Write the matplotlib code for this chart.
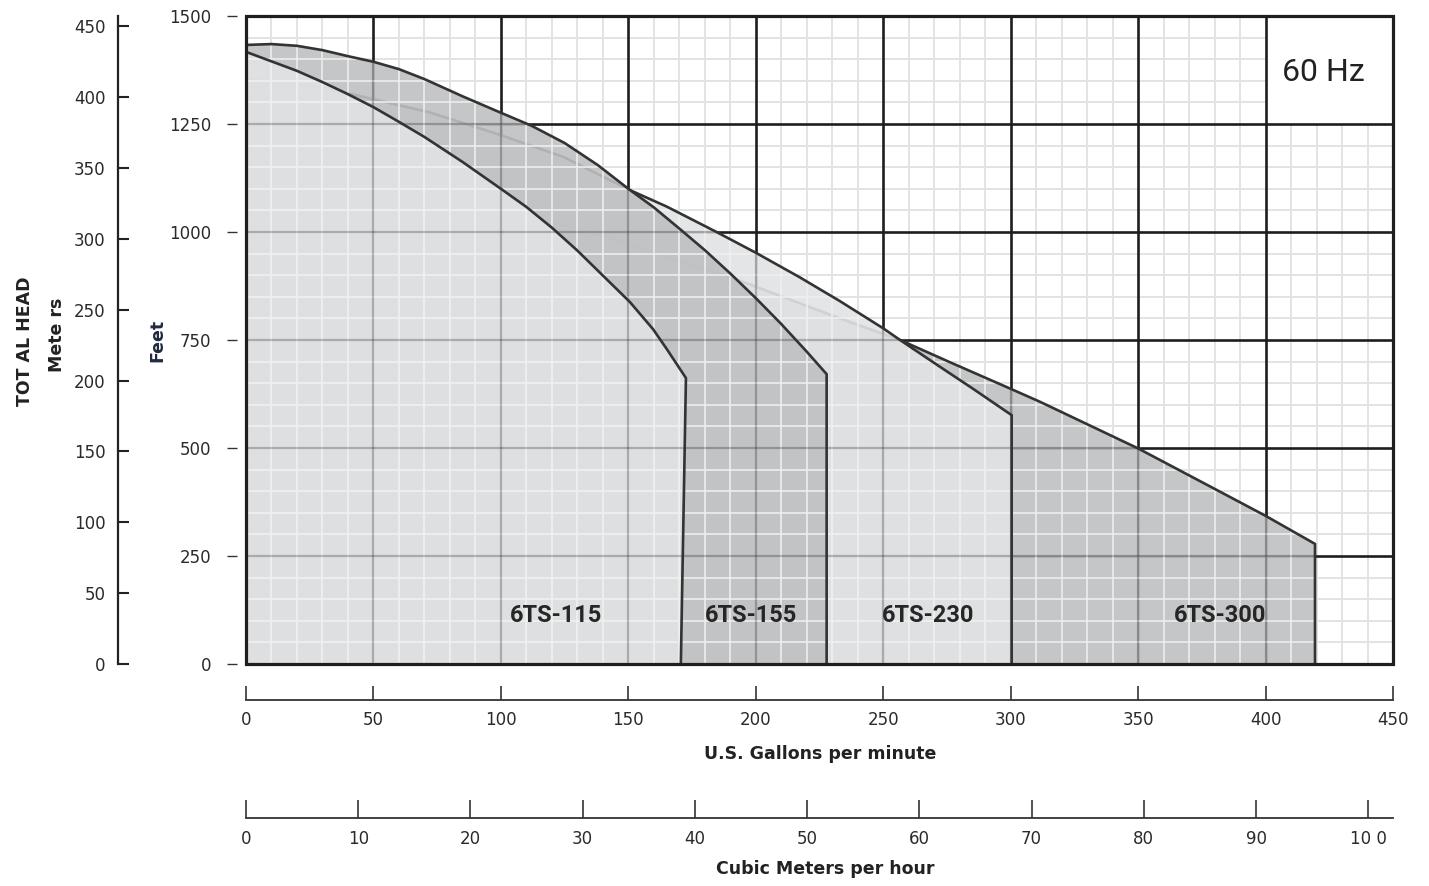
import matplotlib
matplotlib.use("Agg")
import matplotlib.pyplot as plt
from matplotlib.patches import Polygon, Rectangle
from matplotlib.collections import LineCollection

# ---------------- data ----------------
# Pump curves: flow in U.S. gallons per minute, head in feet
gpm_300 = [0, 50, 80, 111.4, 138.9, 150.6, 191.2, 233, 256.6, 276, 300, 311.5, 350, 380.8, 400, 419.4]
ft_300 = [1160, 1110, 1075, 1035, 993, 970, 893, 800, 750, 699, 637, 607, 499, 403, 343, 278]
base_300 = 419.4

gpm_230 = [0, 30, 40, 72, 98, 124.5, 150.6, 165, 184.6, 200, 217, 233, 250, 256.6, 272, 285, 300.4]
ft_230 = [1354, 1336, 1321, 1277, 1228, 1174, 1097, 1059, 1000, 952, 896, 840, 777, 750, 689, 638, 576]
base_230 = 300.4

gpm_155 = [0, 10, 20, 30, 40, 50, 60, 70, 85, 100, 112, 125, 138, 150, 160, 170, 180, 190, 200, 210, 220, 227.8]
ft_155 = [1433, 1435, 1431, 1421, 1407, 1394, 1377, 1354, 1314, 1276, 1246, 1206, 1155, 1100, 1057, 1008, 958, 904, 847, 787, 723, 671]
base_155 = 227.8

gpm_115 = [0, 10, 20, 30, 40, 50, 60, 70, 85, 100, 110, 120, 130, 139, 150.6, 159.7, 165.2, 172.6]
ft_115 = [1417, 1395, 1373, 1347, 1319, 1289, 1255, 1220, 1162, 1100, 1058, 1010, 957, 905, 838, 775, 728, 662]
base_115 = 170.6

series_names = ["6TS-300", "6TS-230", "6TS-155", "6TS-115"]   # back to front
series_tone = ["dark", "light", "dark", "light"]
label_gpm = [382.1, 267.6, 198.1, 121.6]
label_ft = 113

feet_ticks = [0, 250, 500, 750, 1000, 1250, 1500]
meter_ticks = [0, 50, 100, 150, 200, 250, 300, 350, 400, 450]
gpm_ticks = [0, 50, 100, 150, 200, 250, 300, 350, 400, 450]
cmh_ticks = [0, 10, 20, 30, 40, 50, 60, 70, 80, 90, 100]
cmh_tick_labels = ["0", "10", "20", "30", "40", "50", "60", "70", "80", "90", "10 0"]

GPM_MAX, FT_MAX = 450, 1500
M_PER_FT = 0.3048
GPM_PER_CMH = 4.402868

# ---------------- figure ----------------
plt.rcParams["font.family"] = ["DejaVu Sans"]
W, H = 1429, 886
fig = plt.figure(figsize=(W / 100, H / 100), dpi=100)
fig.patch.set_facecolor("white")


def rect(l, t, r, b):
    return [l / W, 1 - b / H, (r - l) / W, (b - t) / H]


L, T, R, B = 246, 16, 1393, 664
TXT = "#2a2a2a"
TICK_FS = 12

ax = fig.add_axes(rect(L, T, R, B))
ax.set_xlim(0, GPM_MAX)
ax.set_ylim(0, FT_MAX)
ax.set_facecolor("white")
for s in ax.spines.values():
    s.set_visible(False)
ax.spines["left"].set_position(("outward", 6.5))
ax.set_xticks([])
ax.set_yticks(feet_ticks)
ax.tick_params(axis="y", direction="out", length=7.5, width=1.0, color="#333333",
               labelsize=TICK_FS, labelcolor=TXT, pad=11)

# grid
minor_x = [v for v in range(10, GPM_MAX, 10) if v % 50]
minor_y = [v for v in range(50, FT_MAX, 50) if v % 250]
major_x = list(range(50, GPM_MAX, 50))
major_y = list(range(250, FT_MAX, 250))
minor_segs = [[(x, 0), (x, FT_MAX)] for x in minor_x] + [[(0, y), (GPM_MAX, y)] for y in minor_y]
major_segs = [[(x, 0), (x, FT_MAX)] for x in major_x] + [[(0, y), (GPM_MAX, y)] for y in major_y]

ax.add_collection(LineCollection(minor_segs, colors="#e3e3e3", linewidths=1.4, zorder=0.3))
ax.add_patch(Rectangle((400, 1250), 50, 250, facecolor="white", edgecolor="none", zorder=0.4))
ax.add_collection(LineCollection(major_segs, colors="#1e1e1e", linewidths=1.9, zorder=0.5))

fill_color = {"dark": "#bfc0c2", "light": "#e2e3e5"}
series = [(gpm_300, ft_300, base_300), (gpm_230, ft_230, base_230),
          (gpm_155, ft_155, base_155), (gpm_115, ft_115, base_115)]

for i, (q, h, qb) in enumerate(series):
    z = 1 + i
    verts = list(zip(q, h)) + [(qb, 0), (0, 0)]
    poly = Polygon(verts, closed=True, facecolor=fill_color[series_tone[i]],
                   edgecolor="none", alpha=0.9, zorder=z)
    ax.add_patch(poly)
    mn = LineCollection(minor_segs, colors="#f0f0f0", linewidths=1.4, alpha=0.8, zorder=z + 0.1)
    mn.set_clip_path(poly)
    ax.add_collection(mn)
    mj = LineCollection(major_segs, colors="black", linewidths=1.6, alpha=0.22, zorder=z + 0.15)
    mj.set_clip_path(poly)
    ax.add_collection(mj)
    ax.plot(list(q) + [qb], list(h) + [0], color="#333333", lw=1.9, zorder=z + 0.2,
            solid_joinstyle="round", solid_capstyle="round")

# frame
ax.add_patch(Rectangle((0, 0), 1, 1, transform=ax.transAxes, fill=False, lw=2.3,
                       ec="#1f1f1f", zorder=20, clip_on=False))

for name, xg in zip(series_names, label_gpm):
    ax.text(xg, label_ft, name, ha="center", va="center", fontsize=17, fontweight="bold",
            family=["Roboto", "DejaVu Sans"], color="#262626", zorder=30)

ax.text(0.9396, 0.9123, "60 Hz", transform=ax.transAxes, ha="center", va="center",
        fontsize=23, family=["Roboto", "DejaVu Sans"], color="#222222", zorder=30)

# meters axis
axm = fig.add_axes(rect(118, T, 119, B))
axm.set_ylim(0, FT_MAX * M_PER_FT)
axm.set_yticks(meter_ticks)
axm.set_xticks([])
axm.patch.set_visible(False)
for k, s in axm.spines.items():
    s.set_visible(k == "left")
axm.spines["left"].set_linewidth(1.6)
axm.spines["left"].set_color("#222222")
axm.tick_params(axis="y", direction="in", length=8, width=1.5, color="#222222",
                labelsize=TICK_FS, labelcolor=TXT, pad=9)

# gpm axis
axg = fig.add_axes(rect(L, 699, R, 700))
axg.set_xlim(0, GPM_MAX)
axg.set_xticks(gpm_ticks)
axg.set_yticks([])
axg.patch.set_visible(False)
for k, s in axg.spines.items():
    s.set_visible(k == "bottom")
axg.spines["bottom"].set_linewidth(1.3)
axg.spines["bottom"].set_color("#333333")
axg.tick_params(axis="x", direction="in", length=10, width=1.2, color="#333333",
                labelsize=TICK_FS, labelcolor=TXT, pad=8)

# cubic meters axis
axc = fig.add_axes(rect(L, 817, R, 818))
axc.set_xlim(0, GPM_MAX / GPM_PER_CMH)
axc.set_xticks(cmh_ticks)
axc.set_xticklabels(cmh_tick_labels)
axc.set_yticks([])
axc.patch.set_visible(False)
for k, s in axc.spines.items():
    s.set_visible(k == "bottom")
axc.spines["bottom"].set_linewidth(1.3)
axc.spines["bottom"].set_color("#333333")
axc.tick_params(axis="x", direction="in", length=13, width=1.2, color="#333333",
                labelsize=TICK_FS, labelcolor=TXT, pad=9)

# axis titles
fig.text(820 / W, 1 - 754 / H, "U.S. Gallons per minute", ha="center", va="center",
         fontsize=12.5, fontweight="bold", color="#222222")
fig.text(825 / W, 1 - 869 / H, "Cubic Meters per hour", ha="center", va="center",
         fontsize=12.5, fontweight="bold", color="#222222")
fig.text(25 / W, 1 - 341 / H, "TOT AL HEAD", rotation=90, ha="center", va="center",
         fontsize=12.5, fontweight="bold", color="#222222")
fig.text(57 / W, 1 - 335 / H, "Mete rs", rotation=90, ha="center", va="center",
         fontsize=12.5, fontweight="bold", color="#222222")
fig.text(157 / W, 1 - 340 / H, "Feet", rotation=90, ha="center", va="center",
         fontsize=12.5, fontweight="bold", color="#1f2940")

fig.savefig("out.png", dpi=100, facecolor="white")
